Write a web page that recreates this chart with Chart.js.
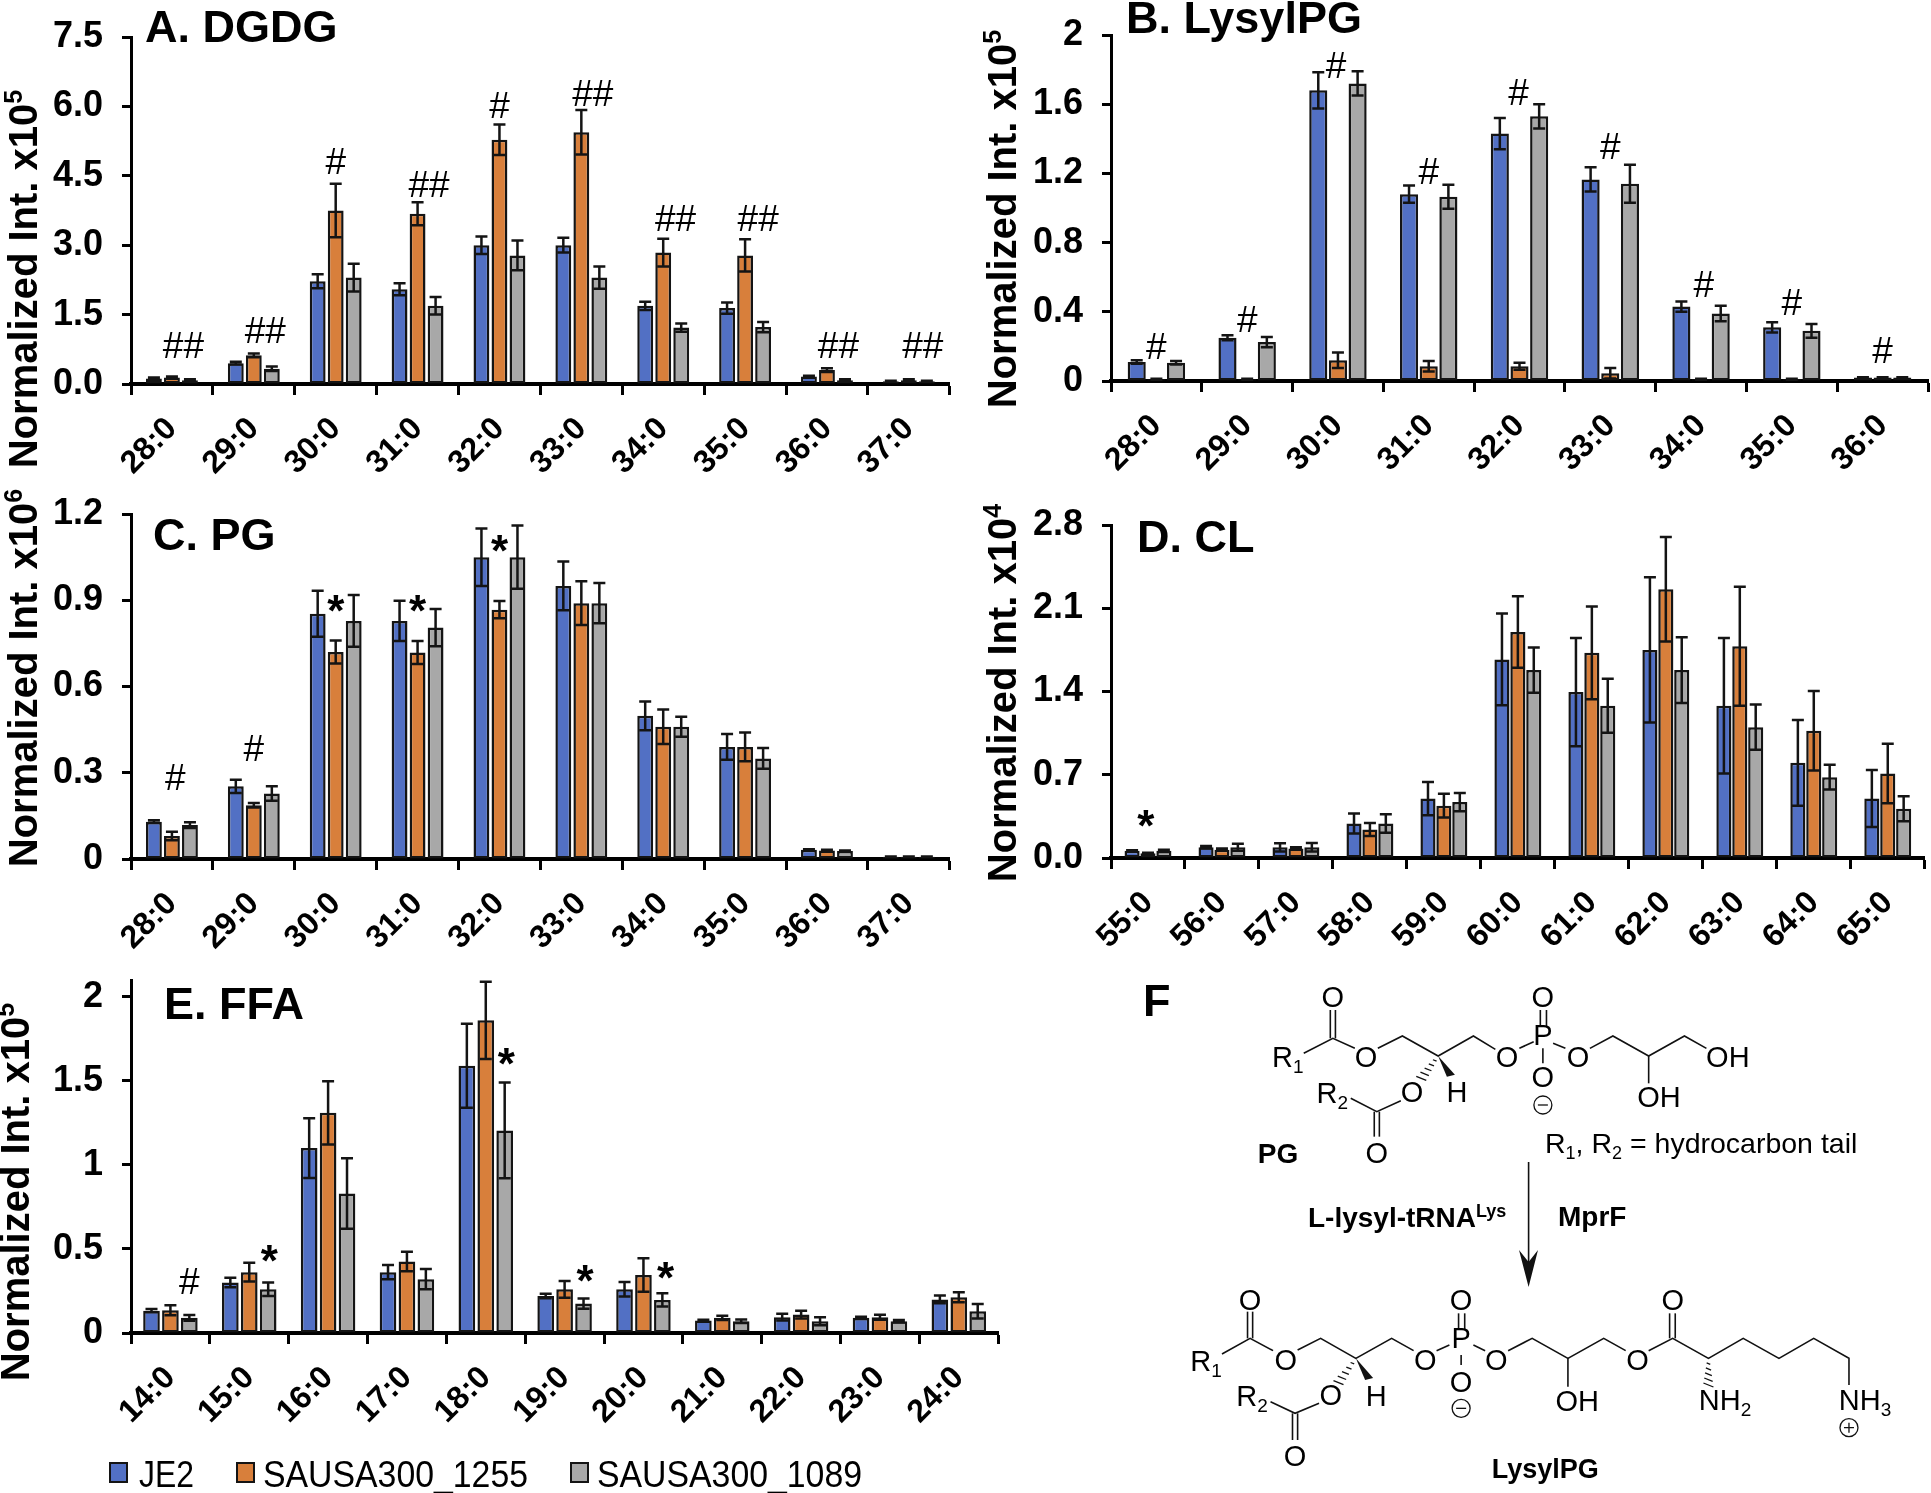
<!DOCTYPE html>
<html><head><meta charset="utf-8">
<script src="https://cdn.jsdelivr.net/npm/chart.js@4"></script>
<style>
html,body{margin:0;padding:0;background:#fff}
#page{position:relative;width:1931px;height:1493px;overflow:hidden;background:#fff}
canvas{position:absolute}
svg{position:absolute;left:0;top:0;pointer-events:none}
</style></head><body><div id="page"></div>
<script>
const seriesNames = ['JE2','SAUSA300_1255','SAUSA300_1089'];

// Panel A: DGDG
const catA = ['28:0','29:0','30:0','31:0','32:0','33:0','34:0','35:0','36:0','37:0'];
const a1 = [.12,.45,2.22,2.05,3.0,3.0,1.69,1.64,.16,.06];
const a2 = [.14,.62,3.75,3.68,5.28,5.44,2.84,2.78,.30,.08];
const a3 = [.08,.33,2.3,1.69,2.78,2.3,1.22,1.23,.08,.06];
const aErr1 = [.02,.03,.15,.13,.19,.16,.09,.12,.02,.01];
const aErr2 = [.02,.04,.58,.25,.33,.48,.30,.35,.04,.02];
const aErr3 = [.02,.05,.3,.19,.32,.24,.09,.11,.02,.01];
const aTicks = ['0.0','1.5','3.0','4.5','6.0','7.5'];
const aSig = [[.14,.78,'##'],[1.14,1.11,'##'],[2,4.77,'#'],[3.14,4.26,'##'],[4,5.97,'#'],[5.14,6.23,'##'],[6.15,3.52,'##'],[7.16,3.52,'##'],[8.14,.78,'##'],[9.17,.78,'##']];

// Panel B: LysylPG
const catB = ['28:0','29:0','30:0','31:0','32:0','33:0','34:0','35:0','36:0'];
const b1 = [.11,.25,1.68,1.08,1.43,1.165,.43,.31,.02];
const b2 = [.01,.01,.12,.085,.085,.045,.01,.01,.02];
const b3 = [.105,.225,1.72,1.065,1.53,1.14,.39,.29,.02];
const bErr1 = [.01,.015,.105,.05,.09,.07,.03,.03,.002];
const bErr2 = [.003,.003,.045,.03,.02,.03,.003,.003,.002];
const bErr3 = [.01,.03,.07,.07,.07,.11,.045,.04,.002];
const bTicks = ['0','0.4','0.8','1.2','1.6','2'];
const bSig = [[0,.186,'#'],[1,.34,'#'],[1.98,1.81,'#'],[3,1.2,'#'],[3.99,1.655,'#'],[5,1.34,'#'],[6.03,.547,'#'],[7,.44,'#'],[8,.163,'#']];

// Panel C: PG
const catC = ['28:0','29:0','30:0','31:0','32:0','33:0','34:0','35:0','36:0','37:0'];
const c1 = [.13,.253,.853,.828,1.05,.95,.498,.39,.032,.008];
const c2 = [.08,.187,.72,.718,.867,.89,.46,.39,.03,.008];
const c3 = [.118,.228,.828,.805,1.05,.89,.46,.35,.028,.008];
const cErr1 = [.005,.023,.08,.07,.10,.085,.05,.045,.002,.001];
const cErr2 = [.015,.008,.04,.04,.03,.076,.06,.05,.002,.001];
const cErr3 = [.01,.025,.09,.065,.11,.07,.035,.036,.002,.001];
const cTicks = ['0','0.3','0.6','0.9','1.2'];
const cSig = [[.04,.274,'#'],[1,.378,'#'],[2,.88,'*'],[3,.88,'*'],[4,1.088,'*']];

// Panel D: CL
const catD = ['55:0','56:0','57:0','58:0','59:0','60:0','61:0','62:0','63:0','64:0','65:0'];
const d1 = [.06,.09,.09,.29,.5,1.67,1.395,1.75,1.28,.8,.5];
const d2 = [.04,.07,.08,.24,.44,1.9,1.725,2.26,1.78,1.07,.71];
const d3 = [.06,.09,.09,.29,.47,1.58,1.28,1.58,1.1,.68,.415];
const dErr1 = [.005,.01,.035,.085,.14,.385,.455,.61,.57,.36,.24];
const dErr2 = [.005,.01,.01,.055,.1,.3,.39,.44,.5,.335,.25];
const dErr3 = [.01,.03,.036,.077,.076,.19,.227,.277,.19,.104,.105];
const dTicks = ['0.0','0.7','1.4','2.1','2.8'];
const dSig = [[-.03,.31,'*']];

// Panel E: FFA
const catE = ['14:0','15:0','16:0','17:0','18:0','19:0','20:0','21:0','22:0','23:0','24:0'];
const e1 = [.133,.30,1.10,.362,1.59,.22,.26,.074,.094,.09,.2];
const e2 = [.135,.362,1.31,.426,1.86,.26,.345,.09,.11,.094,.213];
const e3 = [.09,.26,.83,.32,1.205,.175,.197,.07,.07,.07,.13];
const eErr1 = [.01,.028,.178,.042,.25,.013,.043,.005,.02,.006,.023];
const eErr2 = [.03,.056,.188,.058,.23,.05,.1,.012,.023,.015,.03];
const eErr3 = [.017,.04,.21,.06,.285,.03,.04,.01,.024,.008,.043];
const eTicks = ['0','0.5','1','1.5','2'];
const eSig = [[.24,.293,'#'],[1.255,.458,'*'],[4.26,1.63,'*'],[5.26,.338,'*'],[6.28,.358,'*']];

const BLUE='#5270c4', ORANGE='#d87f3b', GRAY='#a8a8a8', INK='#141414';
const FONT='"Liberation Sans", Arial, sans-serif';
const NARROW='"Liberation Sans Narrow", "Liberation Sans", Arial, sans-serif';

const sigPlugin = {
  id:'errSig',
  afterDatasetsDraw(chart,args,opts){
    const ctx=chart.ctx, y=chart.scales.y, x=chart.scales.x;
    ctx.save();
    ctx.strokeStyle=INK; ctx.lineWidth=2.5; ctx.lineCap='butt';
    opts.errors.forEach((errs,di)=>{
      const meta=chart.getDatasetMeta(di), vals=chart.data.datasets[di].data;
      errs.forEach((e,j)=>{
        const px=meta.data[j].x, hi=y.getPixelForValue(vals[j]+e), lo=y.getPixelForValue(Math.max(vals[j]-e,0));
        ctx.beginPath();
        ctx.moveTo(px,hi);ctx.lineTo(px,lo);
        ctx.moveTo(px-6,hi);ctx.lineTo(px+6,hi);
        ctx.moveTo(px-6,lo);ctx.lineTo(px+6,lo);
        ctx.stroke();
      });
    });
    ctx.fillStyle='#000'; ctx.textAlign='center'; ctx.textBaseline='middle';
    opts.marks.forEach(([c,v,t])=>{
      const px=x.getPixelForValue(c), py=y.getPixelForValue(v);
      if(t==='*'){ctx.font='bold 44px '+FONT;ctx.fillText(t,px,py+8);}
      else{ctx.font='37px '+NARROW;ctx.fillText(t,px,py);}
    });
    ctx.restore();
  }
};

function panel(o){
  const c=document.createElement('canvas');
  c.width=o.w;c.height=o.h;
  c.style.left=o.left+'px';c.style.top=o.top+'px';
  document.getElementById('page').appendChild(c);
  new Chart(c,{
    type:'bar',
    data:{labels:o.labels,datasets:o.values.map((v,i)=>({
      label:seriesNames[i],data:v,backgroundColor:[BLUE,ORANGE,GRAY][i],
      borderColor:INK,borderWidth:2.5,borderSkipped:false,
      categoryPercentage:o.cat,barPercentage:o.bar}))},
    plugins:[sigPlugin],
    options:{
      responsive:false,animation:false,devicePixelRatio:1,
      layout:{padding:{top:o.axisTop-o.top,right:o.left+o.w-o.axisRight,bottom:0,left:0}},
      plugins:{legend:{display:false},tooltip:{enabled:false},title:{display:false},
        errSig:{errors:o.errors,marks:o.marks}},
      scales:{
        x:{z:1,offset:true,
          afterFit:s=>{s.height=o.top+o.h-o.axisBottom;},
          grid:{drawOnChartArea:false,offset:true,tickLength:11,tickWidth:3,tickColor:'#000'},
          border:{display:true,color:'#000',width:4},
          ticks:{color:'#000',font:{family:FONT,weight:'bold',size:32},minRotation:45,maxRotation:45,autoSkip:false,padding:15}},
        y:{min:0,max:o.max,
          afterFit:s=>{s.width=o.axisLeft-o.left;},
          grid:{drawOnChartArea:false,tickLength:9,tickWidth:3,tickColor:'#000'},
          border:{display:true,color:'#000',width:3},
          ticks:{stepSize:o.step,includeBounds:false,color:'#000',padding:19,
            font:{family:NARROW,weight:'bold',size:36},callback:(v,i)=>o.ticks[i]}}
      }
    }
  });
}

panel({left:0,top:-15,w:951,h:495,axisLeft:131,axisRight:951,axisTop:37,axisBottom:384,max:7.5,step:1.5,cat:.66,bar:.88,
  labels:catA,values:[a1,a2,a3],errors:[aErr1,aErr2,aErr3],ticks:aTicks,marks:aSig});
panel({left:960,top:-15,w:970,h:495,axisLeft:1111,axisRight:1928,axisTop:35,axisBottom:381,max:2,step:.4,cat:.65,bar:.92,
  labels:catB,values:[b1,b2,b3],errors:[bErr1,bErr2,bErr3],ticks:bTicks,marks:bSig});
panel({left:0,top:463,w:951,h:497,axisLeft:131,axisRight:951,axisTop:514,axisBottom:859,max:1.2,step:.3,cat:.66,bar:.88,
  labels:catC,values:[c1,c2,c3],errors:[cErr1,cErr2,cErr3],ticks:cTicks,marks:cSig});
panel({left:960,top:473,w:970,h:487,axisLeft:1111,axisRight:1928,axisTop:525,axisBottom:858,max:2.8,step:.7,cat:.645,bar:.95,
  labels:catD,values:[d1,d2,d3],errors:[dErr1,dErr2,dErr3],ticks:dTicks,marks:dSig});
panel({left:0,top:930,w:1001,h:520,axisLeft:131,axisRight:1000,axisTop:980,axisBottom:1333,max:2.1,step:.5,cat:.72,bar:.88,
  labels:catE,values:[e1,e2,e3],errors:[eErr1,eErr2,eErr3],ticks:eTicks,marks:eSig});

// ---- overlay: panel titles, y titles, legend, reaction scheme ----
let s='';
const T=(x,y,t,size,weight,anchor)=>{s+=`<text x="${x}" y="${y}" font-size="${size}" font-weight="${weight||'normal'}" text-anchor="${anchor||'start'}">${t}</text>`;};
[['A. DGDG',145,42],['B. LysylPG',1126,33],['C. PG',153,550],['D. CL',1137,552],['E. FFA',164,1019],['F',1143,1016]]
  .forEach(([t,x,y])=>T(x,y,t,45,'bold'));
[[37,279,'5'],[1016,219,'5'],[37,678,'6'],[1016,693,'4'],[29,1192,'5']].forEach(([x,y,p])=>{
  s+=`<text transform="translate(${x} ${y}) rotate(-90)" text-anchor="middle" font-size="40" font-weight="bold">Normalized Int. x10<tspan font-size="25" dy="-15">${p}</tspan></text>`;
});
// legend
[[110,139,BLUE,55],[237,263,ORANGE,265],[571,597,GRAY,265]].forEach(([bx,tx,col,len],i)=>{
  s+=`<rect x="${bx}" y="1463" width="17" height="19" fill="${col}" stroke="${INK}" stroke-width="2"/>`;
  s+=`<text x="${tx}" y="1487" font-size="37" textLength="${len}" lengthAdjust="spacingAndGlyphs">${seriesNames[i]}</text>`;
});
// scheme coordinates are given in crop units and mapped to the page
const X=z=>1130+z*0.511, Y1=z=>970+z/3, Y2=z=>1230+z/3;
function bonds(list,Y){list.forEach(p=>{let d='M'+X(p[0])+' '+Y(p[1]);for(let i=2;i<p.length;i+=2)d+=' L'+X(p[i])+' '+Y(p[i+1]);
  s+=`<path d="${d}" fill="none" stroke="#111" stroke-width="1.6"/>`;});}
function atoms(list,Y){list.forEach(([t,zx,zy])=>T(X(zx),Y(zy)+10,t,29,'normal','middle'));}
function sub(t,n,zx,zy,Y){s+=`<text x="${X(zx)}" y="${Y(zy)+10}" font-size="29">${t}<tspan font-size="19" dy="6">${n}</tspan></text>`;}
function charge(sym,zx,zy,Y){const x=X(zx),y=Y(zy);s+=`<circle cx="${x}" cy="${y}" r="9" fill="none" stroke="#111" stroke-width="1.3"/><path d="M${x-5} ${y}H${x+5}${sym==='+'?`M${x} ${y-5}V${y+5}`:''}" stroke="#111" stroke-width="1.3"/>`;}
function wedge(a,b,c,d,Y){const x=X(a),y=Y(b),u=X(c),v=Y(d);s+=`<path d="M${x} ${y}L${u-4} ${v}L${u+4} ${v-2}Z" fill="#111"/>`;}
function hatch(a,b,c,d,Y,n){for(let i=1;i<=n;i++){const t=i/n,x=X(a)+(X(c)-X(a))*t,y=Y(b)+(Y(d)-Y(b))*t,w=1+t*4;s+=`<path d="M${x-w} ${y-w*.4}L${x+w} ${y+w*.4}" stroke="#111" stroke-width="1.3"/>`;}}

bonds([[340,250,397,205,440,235],[392,120,392,205],[402,120,402,205],[485,235,533,198,603,258,672,198,715,238],
 [762,235,790,215],[803,120,803,170],[815,120,815,170],[808,235,808,280],[828,220,852,235],[900,235,945,198,1015,258,1085,198,1128,235],
 [1015,258,1015,340],[432,385,483,425,530,392],[478,425,478,500],[488,425,488,500]],Y1);
atoms([['O',397,80],['O',462,262],['O',738,262],['P',808,195],['O',808,80],['O',808,322],['O',877,262],['OH',1170,262],['OH',1035,380],['H',640,365],['O',552,365],['O',483,550]],Y1);
sub('R','1',278,262,Y1); sub('R','2',365,370,Y1);
charge('-',808,405,Y1); wedge(603,258,628,320,Y1); hatch(603,258,570,325,Y1,5);
T(X(250),1163,'PG',28,'bold');
s+=`<text x="1545" y="1153" font-size="28.5">R<tspan font-size="18" dy="6">1</tspan><tspan dy="-6">, R</tspan><tspan font-size="18" dy="6">2</tspan><tspan dy="-6"> = hydrocarbon tail</tspan></text>`;
s+=`<path d="M1528.6 1162V1262" stroke="#111" stroke-width="1.6"/><path d="M1528.6 1287L1519 1250L1528.6 1262L1538 1250Z" fill="#111"/>`;
s+=`<text x="1308" y="1227" font-size="28" font-weight="bold">L-lysyl-tRNA<tspan font-size="18" dy="-10">Lys</tspan></text>`;
T(1558,1226,'MprF',28,'bold');

bonds([[180,372,235,325,280,362],[230,245,230,325],[240,245,240,325],[328,360,373,325,442,385,512,325,555,362],[600,362,625,345],
 [643,250,643,300],[655,250,655,300],[648,375,648,405],[672,345,695,362],[740,362,787,325,857,385,927,325,970,362],
 [1015,362,1062,325,1132,385,1200,325,1270,385,1338,325,1407,385,1407,465],[1056,250,1056,325],[1067,250,1067,325],
 [857,385,857,470],[275,515,323,550,370,520],[318,550,318,630],[328,550,328,630]],Y2);
atoms([['O',235,210],['O',305,390],['O',578,390],['P',648,325],['O',648,210],['O',648,455],['O',717,390],['O',993,390],['O',1062,210],['OH',875,512],['H',482,497],['O',393,495],['O',323,678]],Y2);
sub('R','1',118,393,Y2); sub('R','2',208,498,Y2); sub('NH','2',1113,510,Y2); sub('NH','3',1387,510,Y2);
charge('-',648,535,Y2); charge('+',1407,593,Y2); wedge(442,385,468,450,Y2); hatch(442,385,408,458,Y2,5); hatch(1132,385,1132,465,Y2,5);
T(X(708),1478,'LysylPG',27,'bold');

document.getElementById('page').insertAdjacentHTML('beforeend',
  `<svg width="1931" height="1493" font-family='${FONT}' fill="#000">${s}</svg>`);
</script></body></html>
